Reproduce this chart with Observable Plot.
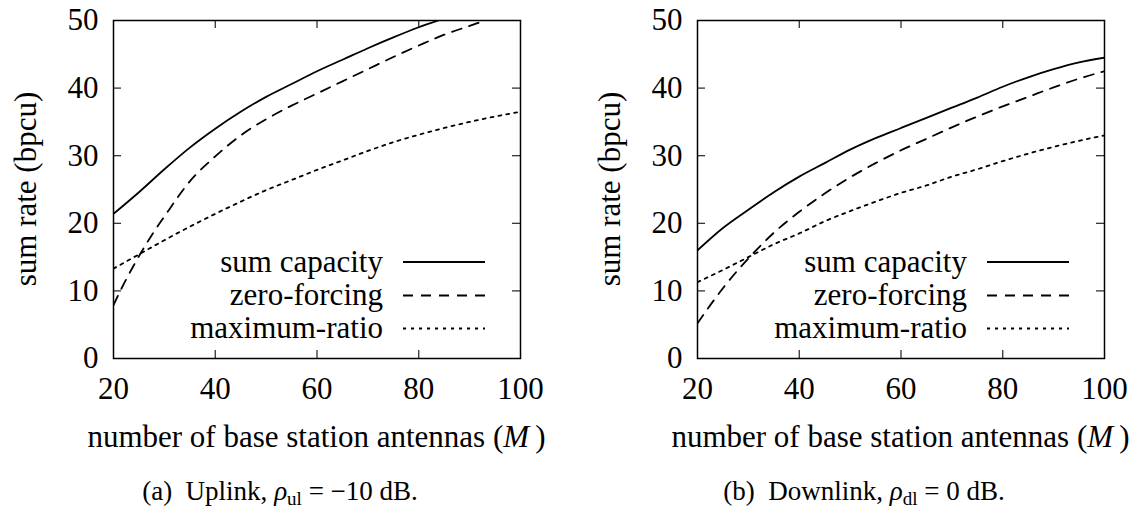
<!DOCTYPE html>
<html><head><meta charset="utf-8">
<script src="https://cdn.jsdelivr.net/npm/d3@7"></script>
<script src="https://cdn.jsdelivr.net/npm/@observablehq/plot@0.6"></script>
<style>
body{margin:0;background:#fff;}
#root{position:relative;width:1144px;height:512px;overflow:hidden;background:#fff;}
.panel{position:absolute;top:0;width:560px;height:512px;}
#root svg, #root svg text{font-family:"Liberation Serif","Times New Roman",Times,serif !important;}
</style></head>
<body><div id="root"></div>
<script>
// ---- data ----
const M = [20,25,30,35,40,45,50,55,60,65,70,75,80,85,90,95,100];
const seriesNames = ["sum capacity","zero-forcing","maximum-ratio"];
const xTicks = [20,40,60,80,100];
const yTicks = [0,10,20,30,40,50];

// Uplink (rho_ul = -10 dB)
const ulSumCapacity = [21.4,24.6,28.0,31.2,34.0,36.5,38.7,40.6,42.5,44.2,45.9,47.5,49.0,50.3,51.5,52.7,53.8];
const ulZeroForcingM = [20,22,24,26,28,30,35,40,45,50,55,60,65,70,75,80,85,90,95,100];
const ulZeroForcing = [7.9,11.0,13.8,16.4,18.8,21.0,26.2,29.9,33.0,35.4,37.4,39.2,41.0,42.8,44.6,46.3,47.9,49.2,50.5,51.6];
const ulMaxRatio = [13.3,15.4,17.5,19.5,21.4,23.2,24.9,26.4,27.9,29.3,30.7,32.0,33.1,34.1,35.0,35.8,36.5];

// Downlink (rho_dl = 0 dB)
const dlSumCapacity = [16.0,19.3,22.0,24.6,26.9,28.9,30.9,32.6,34.1,35.6,37.1,38.6,40.2,41.6,42.8,43.8,44.5];
const dlZeroForcing = [5.2,10.4,14.8,18.6,21.7,24.4,26.8,28.9,30.8,32.5,34.2,35.8,37.3,38.7,40.1,41.4,42.5];
const dlMaxRatio = [11.3,13.1,15.0,16.9,18.5,20.3,21.8,23.2,24.5,25.6,26.9,28.0,29.2,30.3,31.3,32.2,33.0];

const captions = [
  {label:"(a)", text:"Uplink, ", sym:"ρ", sub:"ul", rest:" = −10 dB."},
  {label:"(b)", text:"Downlink, ", sym:"ρ", sub:"dl", rest:" = 0 dB."}
];
const xTitle = ["number of base station antennas (", "M", ")"];
const yTitle = "sum rate (bpcu)";

// ---- styles ----
const dashes = [null, "10,8", "3,5"];
const FONT = "Liberation Serif, Times New Roman, serif";

function pts(xs, ys){ return xs.map((x,i)=>({M:x, v:ys[i]})); }

const panels = [
  {series:[pts(M,ulSumCapacity), pts(ulZeroForcingM,ulZeroForcing), pts(M,ulMaxRatio)], cap:captions[0], left:0},
  {series:[pts(M,dlSumCapacity), pts(M,dlZeroForcing), pts(M,dlMaxRatio)], cap:captions[1], left:584}
];

const W=560, H=512, mL=113, mR=40, mT=20, mB=154;
const innerW = W-mL-mR, innerH = H-mT-mB;
const tickLen = 8;

const root = document.getElementById("root");
panels.forEach(p=>{
  const marks = [
    Plot.ruleX(xTicks.slice(1,-1), {x:d=>d, insetTop: innerH-tickLen, stroke:"#222", strokeWidth:1.2}),
    Plot.ruleX(xTicks.slice(1,-1), {x:d=>d, insetBottom: innerH-tickLen, stroke:"#222", strokeWidth:1.2}),
    Plot.ruleY(yTicks.slice(1,-1), {y:d=>d, insetRight: innerW-tickLen, stroke:"#222", strokeWidth:1.2}),
    Plot.ruleY(yTicks.slice(1,-1), {y:d=>d, insetLeft: innerW-tickLen, stroke:"#222", strokeWidth:1.2}),
    Plot.axisX({ticks:xTicks, tickSize:0, tickPadding:18, label:null, tickFormat:d=>String(d)}),
    Plot.axisY({ticks:yTicks, tickSize:0, tickPadding:15, label:null, tickFormat:d=>String(d)}),
  ];
  p.series.forEach((s,i)=>{
    marks.push(Plot.line(s, {x:"M", y:"v", stroke:"#000", strokeWidth:1.8, curve:"monotone-x",
      strokeDasharray: dashes[i] || undefined, clip:true}));
  });
  marks.push(Plot.frame({stroke:"#000", strokeWidth:1.5}));
  const svg = Plot.plot({
    width:W, height:H, marginLeft:mL, marginRight:mR, marginTop:mT, marginBottom:mB,
    x:{domain:[20,100]}, y:{domain:[0,50]},
    style:{fontFamily:FONT, fontSize:"31px", color:"#000", background:"transparent", overflow:"visible"},
    marks
  });
  svg.setAttribute("font-family", FONT);
  const s = d3.select(svg);
  // axis titles
  const xt = s.append("text").attr("x", mL+innerW/2).attr("y", 447).attr("text-anchor","middle")
    .attr("font-size",31).attr("fill","#000");
  xt.append("tspan").text(xTitle[0]);
  xt.append("tspan").attr("font-style","italic").text(xTitle[1]);
  xt.append("tspan").text("\u2009"+xTitle[2]);
  s.append("text").attr("transform",`translate(36,${mT+innerH/2}) rotate(-90)`).attr("text-anchor","middle")
    .attr("font-size",31).attr("fill","#000").text(yTitle);
  // legend
  const rows = [262, 295.5, 328.5];
  seriesNames.forEach((n,i)=>{
    s.append("text").attr("x",383).attr("y",rows[i]).attr("dy","0.32em").attr("text-anchor","end")
      .attr("font-size",31).attr("fill","#000").text(n);
    const ln = s.append("line").attr("x1",403).attr("x2",485).attr("y1",rows[i]).attr("y2",rows[i])
      .attr("stroke","#000").attr("stroke-width",1.8);
    if (dashes[i]) ln.attr("stroke-dasharray",dashes[i]);
  });
  // caption
  const c = p.cap;
  const ct = s.append("text").attr("x",280).attr("y",500).attr("text-anchor","middle")
    .attr("font-size",27).attr("fill","#000");
  ct.append("tspan").text(c.label+"\u2002"+c.text);
  ct.append("tspan").attr("font-style","italic").text(c.sym);
  ct.append("tspan").attr("font-size",19).attr("dy",5).text(c.sub);
  ct.append("tspan").attr("dy",-5).text(c.rest);

  const div = document.createElement("div");
  div.className = "panel";
  div.style.left = p.left+"px";
  div.appendChild(svg);
  root.appendChild(div);
});
</script>
</body></html>
